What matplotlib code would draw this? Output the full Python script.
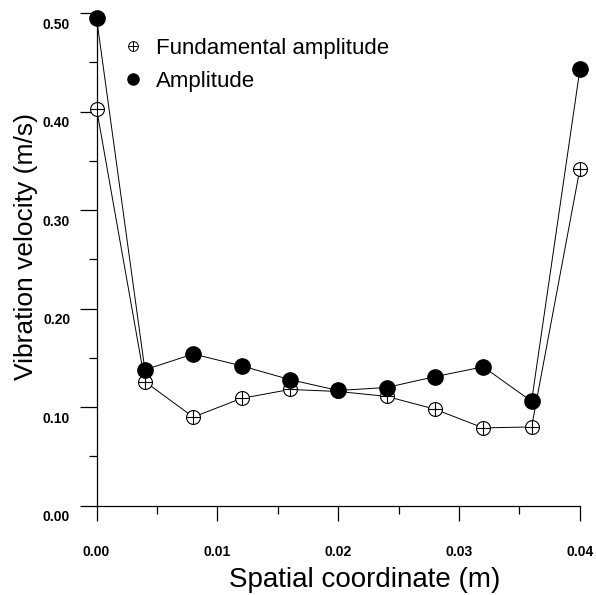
import numpy as np
import matplotlib
matplotlib.use('Agg')
import matplotlib.pyplot as plt
import matplotlib.transforms as mtransforms
from matplotlib.lines import Line2D

plt.rcParams['font.family'] = ['Liberation Sans', 'DejaVu Sans']

# Datos
x = [0.000, 0.004, 0.008, 0.012, 0.016, 0.020, 0.024, 0.028, 0.032, 0.036, 0.040]
fundamental = [0.403, 0.126, 0.090, 0.109, 0.118, 0.116, 0.111, 0.098, 0.079, 0.080, 0.342]
amplitude = [0.495, 0.138, 0.154, 0.142, 0.128, 0.117, 0.120, 0.131, 0.141, 0.106, 0.443]
xticks = [0.00, 0.01, 0.02, 0.03, 0.04]
yticks = [0.00, 0.10, 0.20, 0.30, 0.40, 0.50]

fig = plt.figure(figsize=(5.96, 5.95), dpi=100)
ax = fig.add_axes([0.162, 0.150, 0.811, 0.828])

# Serie fundamental: circulo abierto con cruz
ax.plot(x, fundamental, color='black', lw=0.7, marker='o', ms=10, mfc='white',
        mec='black', mew=0.8, clip_on=False, zorder=3)
ax.plot(x, fundamental, ls='none', marker='+', ms=10, mec='black', mew=0.8,
        clip_on=False, zorder=3)
# Serie amplitud: circulo relleno
ax.plot(x, amplitude, color='black', lw=0.7, marker='o', ms=11, mfc='black',
        mec='black', clip_on=False, zorder=4)

ax.set_xlim(0, 0.04)
ax.set_ylim(0, 0.5)
ax.set_xticks(xticks)
ax.set_xticklabels(['%.2f' % v for v in xticks])
ax.set_yticks(yticks)
ax.set_yticklabels(['%.2f' % v for v in yticks])
ax.set_xticks(np.arange(0.005, 0.04, 0.01), minor=True)
ax.set_yticks(np.arange(0.05, 0.5, 0.1), minor=True)

for s in ['top', 'right']:
    ax.spines[s].set_visible(False)
for s in ['left', 'bottom']:
    ax.spines[s].set_linewidth(0.9)

ax.tick_params(axis='x', which='major', direction='out', length=11, width=0.9,
               pad=17, labelsize=10)
ax.tick_params(axis='y', which='major', direction='out', length=12, width=0.9,
               pad=7, labelsize=10)
ax.tick_params(which='minor', direction='out', length=6, width=0.9)
for lab in ax.get_xticklabels() + ax.get_yticklabels():
    lab.set_fontweight('bold')

# las etiquetas del eje y estan un poco por debajo de las marcas
offset = mtransforms.ScaledTranslation(0, -10 / 100, fig.dpi_scale_trans)
for lab in ax.get_yticklabels():
    lab.set_transform(lab.get_transform() + offset)

ax.set_xlabel('Spatial coordinate (m)', fontsize=20)
ax.xaxis.set_label_coords(0.555, -0.124)
ax.set_ylabel('Vibration velocity (m/s)', fontsize=19)
ax.yaxis.set_label_coords(-0.121, 0.527)

h_fund = (Line2D([], [], ls='none', marker='o', ms=7, mfc='white', mec='black', mew=0.7),
          Line2D([], [], ls='none', marker='+', ms=7, mec='black', mew=0.7))
h_amp = Line2D([], [], ls='none', marker='o', ms=8, mfc='black', mec='black')
ax.legend([h_fund, h_amp], ['Fundamental amplitude', 'Amplitude'],
          loc='upper left', bbox_to_anchor=(0.035, 0.968), frameon=False,
          fontsize=16, handlelength=1.0, handletextpad=0.5, labelspacing=0.55,
          borderaxespad=0)

fig.savefig('out.png', dpi=100)
